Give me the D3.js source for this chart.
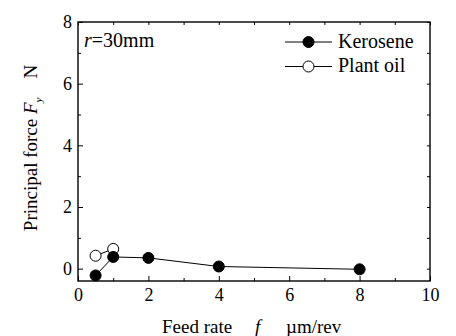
<!DOCTYPE html>
<html>
<head>
<meta charset="utf-8">
<script src="https://cdn.jsdelivr.net/npm/d3@7"></script>
<style>
  html, body { margin: 0; padding: 0; background: #fff; }
</style>
</head>
<body>
<svg id="chart" width="456" height="336"></svg>
<script>
// Feed rate (µm/rev) and principal force Fy (N)
const keroseneFeed = [0.5, 1, 2, 4, 8];
const keroseneForce = [-0.22, 0.38, 0.35, 0.07, -0.02];
const plantOilFeed = [0.5, 1];
const plantOilForce = [0.42, 0.64];
const xMajorTicks = [0, 2, 4, 6, 8, 10];
const yMajorTicks = [0, 2, 4, 6, 8];
const xMinorTicks = [1, 3, 5, 7, 9];
const yMinorTicks = [1, 3, 5, 7];

const serif = "'Liberation Serif', 'Times New Roman', serif";
const svg = d3.select("#chart");
const plotLeft = 78, plotRight = 430, plotTop = 22, plotBottom = 281;

const x = d3.scaleLinear().domain([0, 10]).range([plotLeft, plotRight]);
const y = d3.scaleLinear().domain([-0.4, 8]).range([plotBottom, plotTop]);

// frame
svg.append("rect")
  .attr("x", plotLeft).attr("y", plotTop)
  .attr("width", plotRight - plotLeft).attr("height", plotBottom - plotTop)
  .attr("fill", "none").attr("stroke", "#000").attr("stroke-width", 1.4);

// bottom axis: inward ticks
const xAxis = svg.append("g").attr("transform", `translate(0,${plotBottom})`)
  .call(d3.axisBottom(x).tickValues(xMajorTicks).tickSize(-5).tickFormat(d3.format("d")));
xAxis.select(".domain").remove();
xAxis.selectAll("text").attr("font-size", 18).attr("y", 20).attr("dy", 0);
svg.append("g").attr("transform", `translate(0,${plotBottom})`)
  .call(d3.axisBottom(x).tickValues(xMinorTicks).tickSize(-3).tickFormat(""))
  .select(".domain").remove();

// left axis: inward ticks
const yAxis = svg.append("g").attr("transform", `translate(${plotLeft},0)`)
  .call(d3.axisLeft(y).tickValues(yMajorTicks).tickSize(-5).tickPadding(6).tickFormat(d3.format("d")));
yAxis.select(".domain").remove();
yAxis.selectAll("text").attr("font-size", 18);
svg.append("g").attr("transform", `translate(${plotLeft},0)`)
  .call(d3.axisLeft(y).tickValues(yMinorTicks).tickSize(-3).tickFormat(""))
  .select(".domain").remove();

// right and top axes: small inward ticks, no labels
svg.append("g").attr("transform", `translate(${plotRight},0)`)
  .call(d3.axisRight(y).tickValues(yMajorTicks.concat(yMinorTicks)).tickSize(-3).tickFormat(""))
  .select(".domain").remove();
svg.append("g").attr("transform", `translate(0,${plotTop})`)
  .call(d3.axisTop(x).tickValues(xMajorTicks.concat(xMinorTicks)).tickSize(-3).tickFormat(""))
  .select(".domain").remove();
svg.selectAll(".tick line").attr("stroke", "#000").attr("stroke-width", 1);

// series
const line = d3.line().x(d => x(d[0])).y(d => y(d[1]));
const kero = keroseneFeed.map((f, i) => [f, keroseneForce[i]]);
const oil = plantOilFeed.map((f, i) => [f, plantOilForce[i]]);

svg.append("path").datum(oil).attr("d", line)
  .attr("fill", "none").attr("stroke", "#000").attr("stroke-width", 1);
svg.append("path").datum(kero).attr("d", line)
  .attr("fill", "none").attr("stroke", "#000").attr("stroke-width", 1);

svg.selectAll("circle.oil").data(oil).join("circle").attr("class", "oil")
  .attr("cx", d => x(d[0])).attr("cy", d => y(d[1])).attr("r", 5.5)
  .attr("fill", "#fff").attr("stroke", "#000").attr("stroke-width", 1);
svg.selectAll("circle.kero").data(kero).join("circle").attr("class", "kero")
  .attr("cx", d => x(d[0])).attr("cy", d => y(d[1])).attr("r", 5.5)
  .attr("fill", "#000").attr("stroke", "#000").attr("stroke-width", 1);

// annotation
const ann = svg.append("text").attr("x", 84).attr("y", 47).attr("font-size", 20);
ann.append("tspan").attr("font-style", "italic").text("r");
ann.append("tspan").text("=30mm");

// legend
const legend = [
  { name: "Kerosene", fill: "#000", yy: 42 },
  { name: "Plant oil", fill: "#fff", yy: 66.5 }
];
const lg = svg.append("g");
legend.forEach(d => {
  lg.append("line").attr("x1", 285).attr("x2", 332).attr("y1", d.yy).attr("y2", d.yy)
    .attr("stroke", "#000").attr("stroke-width", 1);
  lg.append("circle").attr("cx", 308.5).attr("cy", d.yy).attr("r", 5.5)
    .attr("fill", d.fill).attr("stroke", "#000").attr("stroke-width", 1);
  lg.append("text").attr("x", 338).attr("y", d.yy + 5.5).attr("font-size", 20).text(d.name);
});

// x axis title: words placed at fixed gaps
const xTitle = svg.append("g").attr("font-size", 19);
xTitle.append("text").attr("x", 162).attr("y", 333).text("Feed rate");
xTitle.append("text").attr("x", 255).attr("y", 333).attr("font-style", "italic").text("f");
xTitle.append("text").attr("x", 286).attr("y", 333).text("\u00b5m/rev");

// y axis title
const yt = svg.append("text").attr("transform", "translate(37,148) rotate(-90)")
  .attr("text-anchor", "middle").attr("font-size", 19);
yt.append("tspan").text("Principal force ");
yt.append("tspan").attr("font-style", "italic").text("F");
yt.append("tspan").attr("font-style", "italic").attr("font-size", 11).attr("dy", 5).text("y");
yt.append("tspan").attr("dy", -5).text("\u2003N");

// serif typeface on every label
svg.selectAll("g").attr("font-family", serif);
svg.selectAll("text").attr("font-family", serif).attr("fill", "#000");
</script>
</body>
</html>
